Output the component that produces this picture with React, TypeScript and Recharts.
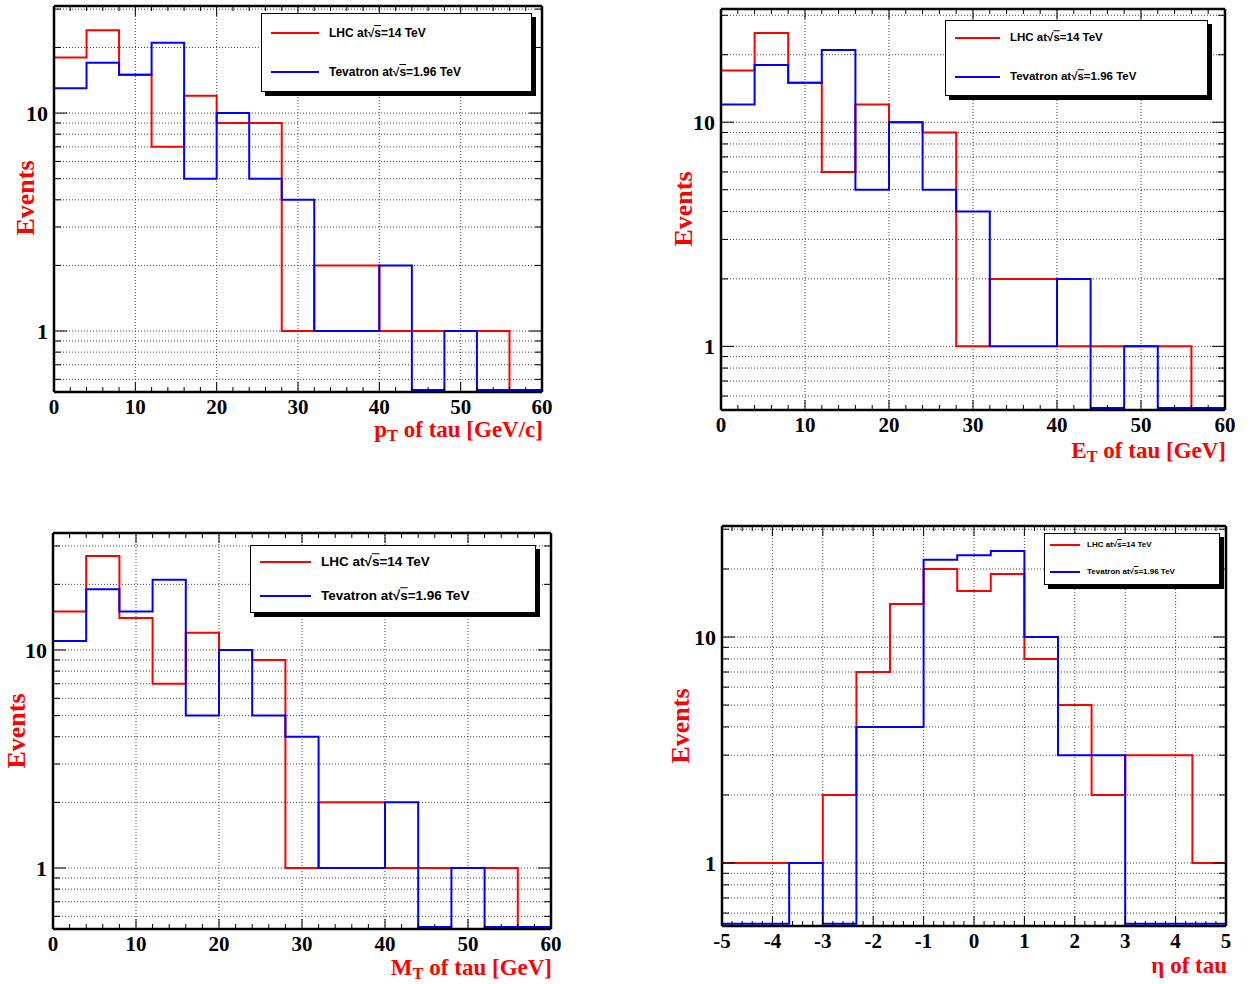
import React from 'react';
import { LineChart, Line, XAxis, YAxis, ReferenceLine } from 'recharts';

// ---------------- data ----------------
const GEV_BINS = [0, 4, 8, 12, 16, 20, 24, 28, 32, 36, 40, 44, 48, 52, 56, 60];
const ETA_BINS = [-5, -4.333, -3.667, -3, -2.333, -1.667, -1, -0.333, 0.333, 1, 1.667, 2.333, 3, 3.667, 4.333, 5];

const PT_LHC = [18, 24, 15, 7, 12, 9, 9, 1, 2, 2, 1, 1, 1, 1, 0];
const PT_TEV = [13, 17, 15, 21, 5, 10, 5, 4, 1, 1, 2, 0, 1, 0, 0];

const ET_LHC = [17, 25, 15, 6, 12, 10, 9, 1, 2, 2, 1, 1, 1, 1, 0];
const ET_TEV = [12, 18, 15, 21, 5, 10, 5, 4, 1, 1, 2, 0, 1, 0, 0];

const MT_LHC = [15, 27, 14, 7, 12, 10, 9, 1, 2, 2, 1, 1, 1, 1, 0];
const MT_TEV = [11, 19, 15, 21, 5, 10, 5, 4, 1, 1, 2, 0, 1, 0, 0];

const ETA_LHC = [1, 1, 1, 2, 7, 14, 20, 16, 19, 8, 5, 2, 3, 3, 1];
const ETA_TEV = [0, 0, 1, 0, 4, 4, 22, 23, 24, 10, 3, 3, 0, 0, 0];

const Y_TICKS = [0.6, 0.7, 0.8, 0.9, 1, 2, 3, 4, 5, 6, 7, 8, 9, 10, 20, 30];
const Y_LABELS = [1, 10];
const X_LABELS_GEV = [0, 10, 20, 30, 40, 50, 60];
const X_LABELS_ETA = [-5, -4, -3, -2, -1, 0, 1, 2, 3, 4, 5];

const SERIES_NAMES = ['LHC', 'Tevatron'];
const SERIES_ENERGIES = ['14', '1.96'];
const SERIES_COLORS = ['#ff0000', '#0000ff'];

// ---------------- helpers ----------------
function subdivide(majors: number[], n: number): number[] {
  const out: number[] = [];
  for (let i = 0; i < majors.length - 1; i++) {
    const a = majors[i];
    const b = majors[i + 1];
    for (let k = 0; k < n; k++) out.push(a + ((b - a) * k) / n);
  }
  out.push(majors[majors.length - 1]);
  return out;
}

// empty bins are drawn along the floor of the log axis, as ROOT does
function toSteps(edges: number[], values: number[], floor: number) {
  const rows: { x: number; v: number }[] = [];
  const f = (v: number) => (v <= 0 ? floor : v);
  rows.push({ x: edges[0], v: floor });
  for (let i = 0; i < values.length; i++) rows.push({ x: edges[i], v: f(values[i]) });
  rows.push({ x: edges[edges.length - 1], v: f(values[values.length - 1]) });
  rows.push({ x: edges[edges.length - 1], v: floor });
  return rows;
}

const isIn = (arr: number[], v: number) => arr.some((a) => Math.abs(a - v) < 1e-6);

const TICK_FONT = { fontFamily: '"Liberation Serif", "DejaVu Serif", serif', fontWeight: 700, fontSize: 21 };

function BottomTick(props: any) {
  const { x, y, payload, labels } = props;
  const major = isIn(labels, payload.value);
  return (
    <g>
      <line x1={x} x2={x} y1={y} y2={y - (major ? 10 : 5)} stroke="#000" strokeWidth={1} />
      {major && (
        <text x={x} y={y + 22} textAnchor="middle" fill="#000" style={TICK_FONT}>
          {String(payload.value)}
        </text>
      )}
    </g>
  );
}

function TopTick(props: any) {
  const { x, y, payload, labels } = props;
  const major = isIn(labels, payload.value);
  return <line x1={x} x2={x} y1={y} y2={y + (major ? 10 : 5)} stroke="#000" strokeWidth={1} />;
}

function LeftTick(props: any) {
  const { x, y, payload } = props;
  const major = isIn(Y_LABELS, payload.value);
  return (
    <g>
      <line x1={x} x2={x + (major ? 13 : 7)} y1={y} y2={y} stroke="#000" strokeWidth={1} />
      {major && (
        <text x={x - 6} y={y + 8} textAnchor="end" fill="#000" style={{ ...TICK_FONT, fontSize: 22 }}>
          {String(payload.value)}
        </text>
      )}
    </g>
  );
}

function RightTick(props: any) {
  const { x, y, payload } = props;
  const major = isIn(Y_LABELS, payload.value);
  return <line x1={x} x2={x - (major ? 13 : 7)} y1={y} y2={y} stroke="#000" strokeWidth={1} />;
}

type Frame = { left: number; top: number; width: number; height: number };
type LegendCfg = {
  left: number;
  top: number;
  width: number;
  height: number;
  rowY: number[];
  lineX: number;
  lineLen: number;
  textX: number;
  fontSize: number;
};

function LegendBox({ cfg }: { cfg: LegendCfg }) {
  return (
    <div
      style={{
        position: 'absolute',
        left: cfg.left,
        top: cfg.top,
        width: cfg.width,
        height: cfg.height,
        background: '#fff',
        border: '1px solid #000',
        boxShadow: '4px 4px 0 #000',
        boxSizing: 'border-box',
      }}
    >
      {SERIES_NAMES.map((name, i) => (
        <React.Fragment key={name}>
          <div
            style={{
              position: 'absolute',
              left: cfg.lineX,
              top: cfg.rowY[i] - 1,
              width: cfg.lineLen,
              height: 2,
              background: SERIES_COLORS[i],
            }}
          />
          <div
            style={{
              position: 'absolute',
              left: cfg.textX,
              top: cfg.rowY[i],
              transform: 'translateY(-50%)',
              fontFamily: '"Liberation Sans", Arial, sans-serif',
              fontWeight: 700,
              fontSize: cfg.fontSize,
              lineHeight: 1,
              whiteSpace: 'nowrap',
              color: '#000',
            }}
          >
            {name} at√<span style={{ textDecoration: 'overline' }}>s</span>={SERIES_ENERGIES[i]} TeV
          </div>
        </React.Fragment>
      ))}
    </div>
  );
}

const TITLE_STYLE: React.CSSProperties = {
  position: 'absolute',
  fontFamily: '"Liberation Serif", "DejaVu Serif", serif',
  fontWeight: 700,
  color: '#ff0000',
  whiteSpace: 'nowrap',
  lineHeight: 1,
};

type PanelProps = {
  frame: Frame;
  xDomain: [number, number];
  xLabels: number[];
  xMinor: number;
  yDomain: [number, number];
  bins: number[];
  lhc: number[];
  tev: number[];
  legend: LegendCfg;
  xTitle: React.ReactNode;
  xTitleBaseline: number;
  eventsX: number;
  eventsY: number;
};

// outer space around the plotting frame (axis band of 1px included)
const M = { top: 12, right: 24, bottom: 40, left: 50 };
const AX = 1;
const FRAME_LINE = { stroke: '#000', strokeWidth: 2.5 };

function Panel(p: PanelProps) {
  const xTicks = subdivide(p.xLabels, p.xMinor);
  const yTicks = Y_TICKS.filter((t) => t >= p.yDomain[0] && t <= p.yDomain[1]);
  const floor = p.yDomain[0] * 1.022;
  const lhcRows = toSteps(p.bins, p.lhc, floor);
  const tevRows = toSteps(p.bins, p.tev, floor);
  const innerX = p.xLabels.slice(1, -1);
  const margin = { top: M.top - AX, right: M.right - AX, bottom: M.bottom - AX, left: M.left - AX };
  return (
    <>
      <div style={{ position: 'absolute', left: p.frame.left - M.left, top: p.frame.top - M.top }}>
        <LineChart width={p.frame.width + M.left + M.right} height={p.frame.height + M.top + M.bottom} margin={margin}>
          <XAxis
            xAxisId="b"
            dataKey="x"
            type="number"
            orientation="bottom"
            domain={p.xDomain}
            allowDataOverflow
            ticks={xTicks}
            interval={0}
            height={AX}
            tickSize={0}
            tickMargin={0}
            tickLine={false}
            axisLine={FRAME_LINE}
            tick={(tp: any) => <BottomTick {...tp} labels={p.xLabels} />}
          />
          <XAxis
            xAxisId="t"
            dataKey="x"
            type="number"
            orientation="top"
            domain={p.xDomain}
            allowDataOverflow
            ticks={xTicks}
            interval={0}
            height={AX}
            tickSize={0}
            tickMargin={0}
            tickLine={false}
            axisLine={FRAME_LINE}
            tick={(tp: any) => <TopTick {...tp} labels={p.xLabels} />}
          />
          <YAxis
            yAxisId="l"
            type="number"
            scale="log"
            orientation="left"
            domain={p.yDomain}
            allowDataOverflow
            ticks={yTicks}
            interval={0}
            width={AX}
            tickSize={0}
            tickMargin={0}
            tickLine={false}
            axisLine={FRAME_LINE}
            tick={(tp: any) => <LeftTick {...tp} />}
          />
          <YAxis
            yAxisId="r"
            type="number"
            scale="log"
            orientation="right"
            domain={p.yDomain}
            allowDataOverflow
            ticks={yTicks}
            interval={0}
            width={AX}
            tickSize={0}
            tickMargin={0}
            tickLine={false}
            axisLine={FRAME_LINE}
            tick={(tp: any) => <RightTick {...tp} />}
          />
          {innerX.map((v) => (
            <ReferenceLine
              key={'gx' + v}
              x={v}
              xAxisId="b"
              yAxisId="l"
              stroke="#444"
              strokeWidth={1}
              strokeDasharray="1 2"
            />
          ))}
          {yTicks.map((v) => (
            <ReferenceLine
              key={'gy' + v}
              y={v}
              xAxisId="b"
              yAxisId="l"
              stroke="#444"
              strokeWidth={1}
              strokeDasharray="1 2"
            />
          ))}
          <Line
            xAxisId="b"
            yAxisId="l"
            data={lhcRows}
            dataKey="v"
            type="stepAfter"
            stroke={SERIES_COLORS[0]}
            strokeWidth={2}
            dot={false}
            activeDot={false}
            isAnimationActive={false}
          />
          <Line
            xAxisId="b"
            yAxisId="l"
            data={tevRows}
            dataKey="v"
            type="stepAfter"
            stroke={SERIES_COLORS[1]}
            strokeWidth={2}
            dot={false}
            activeDot={false}
            isAnimationActive={false}
          />
          {/* invisible series binding the mirrored axes */}
          <Line
            xAxisId="t"
            yAxisId="r"
            data={tevRows}
            dataKey="v"
            type="stepAfter"
            stroke="none"
            strokeWidth={0}
            dot={false}
            activeDot={false}
            legendType="none"
            isAnimationActive={false}
          />
        </LineChart>
      </div>
      <LegendBox cfg={p.legend} />
      <div
        style={{
          ...TITLE_STYLE,
          fontSize: 26,
          left: p.eventsX,
          top: p.eventsY,
          transform: 'translate(-50%, -50%) rotate(-90deg)',
        }}
      >
        Events
      </div>
      <div
        style={{
          ...TITLE_STYLE,
          fontSize: 23,
          left: 0,
          width: p.frame.left + p.frame.width + 1,
          textAlign: 'right',
          top: p.xTitleBaseline - 16,
        }}
      >
        {p.xTitle}
      </div>
    </>
  );
}

const Sub = ({ children }: { children: React.ReactNode }) => (
  <span style={{ fontSize: '0.72em', position: 'relative', top: '0.25em' }}>{children}</span>
);

export default function App() {
  return (
    <div style={{ position: 'absolute', left: 0, top: 0, width: 1254, height: 984, background: '#fff', overflow: 'hidden' }}>
      <Panel
        frame={{ left: 54, top: 6, width: 488, height: 386 }}
        xDomain={[0, 60]}
        xLabels={X_LABELS_GEV}
        xMinor={5}
        yDomain={[0.525, 31]}
        bins={GEV_BINS}
        lhc={PT_LHC}
        tev={PT_TEV}
        legend={{ left: 261, top: 13, width: 271, height: 79, rowY: [19, 58], lineX: 9, lineLen: 48, textX: 67, fontSize: 12 }}
        xTitle={<>p<Sub>T</Sub> of tau [GeV/c]</>}
        xTitleBaseline={434}
        eventsX={26}
        eventsY={198}
      />
      <Panel
        frame={{ left: 721, top: 9, width: 504, height: 401 }}
        xDomain={[0, 60]}
        xLabels={X_LABELS_GEV}
        xMinor={5}
        yDomain={[0.52, 32]}
        bins={GEV_BINS}
        lhc={ET_LHC}
        tev={ET_TEV}
        legend={{ left: 945, top: 20, width: 263, height: 76, rowY: [17, 56], lineX: 9, lineLen: 45, textX: 64, fontSize: 11.5 }}
        xTitle={<>E<Sub>T</Sub> of tau [GeV]</>}
        xTitleBaseline={455}
        eventsX={684}
        eventsY={209}
      />
      <Panel
        frame={{ left: 53, top: 533, width: 498, height: 396 }}
        xDomain={[0, 60]}
        xLabels={X_LABELS_GEV}
        xMinor={5}
        yDomain={[0.525, 34.4]}
        bins={GEV_BINS}
        lhc={MT_LHC}
        tev={MT_TEV}
        legend={{ left: 250, top: 545, width: 286, height: 68, rowY: [16, 50], lineX: 9, lineLen: 51, textX: 70, fontSize: 13.5 }}
        xTitle={<>M<Sub>T</Sub> of tau [GeV]</>}
        xTitleBaseline={972}
        eventsX={17}
        eventsY={731}
      />
      <Panel
        frame={{ left: 722, top: 526, width: 504, height: 400 }}
        xDomain={[-5, 5]}
        xLabels={X_LABELS_ETA}
        xMinor={5}
        yDomain={[0.526, 31]}
        bins={ETA_BINS}
        lhc={ETA_LHC}
        tev={ETA_TEV}
        legend={{ left: 1044, top: 533, width: 176, height: 52, rowY: [11, 38], lineX: 5, lineLen: 30, textX: 42, fontSize: 8 }}
        xTitle={<>η of tau</>}
        xTitleBaseline={970}
        eventsX={681}
        eventsY={726}
      />
    </div>
  );
}
